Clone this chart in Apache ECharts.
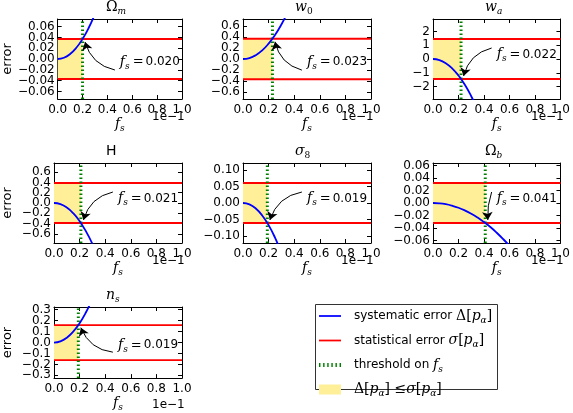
<!DOCTYPE html>
<html>
<head>
<meta charset="utf-8">
<script src="https://cdn.jsdelivr.net/npm/echarts@6/dist/echarts.min.js"></script>
<style>
  html, body { margin: 0; padding: 0; background: #fff; }
  #chart { width: 573px; height: 413px; }
</style>
</head>
<body>
<div id="chart"></div>
<script>
// panel titles (rich text keys: g = greek upright, i = italic, sub = subscript)
const panelTitles = ['{g|Ω}{subi|m}', '{i|w}{sub|0}', '{i|w}{subi|a}', '{h|H}', '{i|σ}{sub|8}', '{g|Ω}{subi|b}', '{i|n}{subi|s}'];
const fsLabels = ['0.020', '0.023', '0.022', '0.021', '0.019', '0.041', '0.019'];
const thresholdX = [0.20, 0.23, 0.22, 0.21, 0.19, 0.41, 0.19]; // x in units of 1e-1
const statErr = [0.037, 0.37, 1.45, 0.39, 0.061, 0.032, 0.16];
const yLimit = [0.074, 0.73, 2.9, 0.78, 0.122, 0.064, 0.325];
const yTicks = [
  [-0.06, -0.04, -0.02, 0, 0.02, 0.04, 0.06],
  [-0.6, -0.4, -0.2, 0, 0.2, 0.4, 0.6],
  [-2, -1, 0, 1, 2],
  [-0.6, -0.4, -0.2, 0, 0.2, 0.4, 0.6],
  [-0.10, -0.05, 0, 0.05, 0.10],
  [-0.06, -0.04, -0.02, 0, 0.02, 0.04, 0.06],
  [-0.3, -0.2, -0.1, 0, 0.1, 0.2, 0.3]
];
const yDecimals = [2, 1, 0, 1, 2, 2, 1];
const xTicks = [0, 0.2, 0.4, 0.6, 0.8, 1.0];

// systematic error curves, sampled at fSample
const fSample = [0, 0.05, 0.1, 0.15, 0.2, 0.25, 0.3, 0.35, 0.4, 0.45, 0.5, 0.55, 0.6];
const sysOmegaM = [0, 0.0023, 0.0093, 0.0208, 0.037, 0.0578, 0.0833];
const sysW0 = [0, 0.0175, 0.070, 0.157, 0.28, 0.437, 0.63, 0.857];
const sysWa = [0, -0.075, -0.30, -0.674, -1.20, -1.87, -2.70, -3.67];
const sysH = [0, -0.022, -0.088, -0.199, -0.354, -0.553, -0.796];
const sysSigma8 = [0, -0.0042, -0.0169, -0.038, -0.0676, -0.1056, -0.152];
const sysOmegaB = [0, -0.0005, -0.0019, -0.0043, -0.0076, -0.0119, -0.0171, -0.0233, -0.0305, -0.0385, -0.0476, -0.0576, -0.0685];
const sysNs = [0, 0.0111, 0.0443, 0.0997, 0.177, 0.277, 0.399];
const sysCurves = [sysOmegaM, sysW0, sysWa, sysH, sysSigma8, sysOmegaB, sysNs];

// layout
const colLeft = [54, 243, 433];
const rowTop = [19, 163, 307];
const plotW = 128, plotH = 80;

const SERIF = 'DejaVu Serif';
const SANS = 'DejaVu Sans';
const mathRich = {
  g: { fontFamily: SERIF, fontSize: 14, lineHeight: 18, color: '#000' },
  h: { fontFamily: SANS, fontSize: 14, lineHeight: 18, color: '#000' },
  i: { fontFamily: SERIF, fontStyle: 'italic', fontSize: 14, lineHeight: 18, color: '#000' },
  sub: { fontFamily: SERIF, fontSize: 9, lineHeight: 9, verticalAlign: 'bottom', color: '#000' },
  subi: { fontFamily: SERIF, fontStyle: 'italic', fontSize: 9, lineHeight: 9, verticalAlign: 'bottom', color: '#000' },
  eq: { fontFamily: SERIF, fontSize: 13, lineHeight: 18, color: '#000', padding: [0, 2, 0, 3] },
  n: { fontFamily: SANS, fontSize: 12, lineHeight: 18, color: '#000' }
};

const fmtNum = (v, d) => {
  const s = Math.abs(v) < 1e-12 ? (0).toFixed(d) : v.toFixed(d);
  return s.replace('-', '\u2212');
};

const option = {
  animation: false,
  grid: [], xAxis: [], yAxis: [], series: [], graphic: [],
  legend: {
    orient: 'vertical',
    left: 319, top: 307,
    itemWidth: 22, itemHeight: 10, itemGap: 6.5,
    selectedMode: false,
    padding: 0,
    textStyle: { fontFamily: SANS, fontSize: 12, color: '#000', lineHeight: 14, padding: [0, 0, 0, 8], rich: mathRich },
    formatter: function (name) {
      return {
        sys: 'systematic error {g|Δ[}{i|p}{subi|α}{g|]}',
        stat: 'statistical error {i|σ}{g|[}{i|p}{subi|α}{g|]}',
        thr: 'threshold on {i|f}{subi|s}',
        fill: '{g|Δ[}{i|p}{subi|α}{g|] ≤}{i|σ}{g|[}{i|p}{subi|α}{g|]}'
      }[name];
    },
    data: [
      { name: 'sys', icon: 'path://M0,0H20V1.6H0Z' },
      { name: 'stat', icon: 'path://M0,0H20V1.6H0Z' },
      { name: 'thr', icon: 'path://M0,0H1.4V4H0ZM4,0H5.4V4H4ZM8,0H9.4V4H8ZM12,0H13.4V4H12ZM16,0H17.4V4H16ZM20,0H21.4V4H20Z' },
      { name: 'fill', icon: 'rect' }
    ]
  }
};

for (let i = 0; i < 7; i++) {
  const col = i % 3, row = Math.floor(i / 3);
  const left = colLeft[col], top = rowTop[row];
  const lim = yLimit[i], sig = statErr[i], fs = thresholdX[i];
  const ax = 2 * i, ay = 3 * i;

  option.grid.push({ left: left, top: top, width: plotW, height: plotH });

  const tick = { inside: true, length: 4, lineStyle: { color: '#000', width: 1 } };
  const line = { onZero: false, lineStyle: { color: '#000', width: 1 } };

  option.xAxis.push({
    type: 'value', gridIndex: i, min: 0, max: 1, interval: 0.2,
    axisLine: line, axisTick: tick, splitLine: { show: false },
    axisLabel: { color: '#000', fontFamily: SANS, fontSize: 12, margin: 5, showMinLabel: true, showMaxLabel: true,
                 formatter: v => v.toFixed(1) },
    name: '{i|f}{subi|s}', nameLocation: 'middle', nameGap: 11,
    nameTextStyle: { rich: mathRich }
  });
  option.xAxis.push({
    type: 'value', gridIndex: i, min: 0, max: 1, interval: 0.2, position: 'top',
    axisLine: line, axisTick: tick, splitLine: { show: false }, axisLabel: { show: false }
  });

  // tick labels are split over two left axes (alternate values) so ECharts keeps all of them
  const ticks = yTicks[i];
  const evenTicks = ticks.filter((_, k) => k % 2 === 0);
  const oddTicks = ticks.filter((_, k) => k % 2 === 1);
  const labelStyle = { margin: 3, color: '#000', fontFamily: SANS, fontSize: 12,
                       showMinLabel: true, showMaxLabel: true, formatter: v => fmtNum(v, yDecimals[i]) };
  const yLeft = {
    type: 'value', gridIndex: i, min: -lim, max: lim,
    axisLine: line, splitLine: { show: false },
    axisTick: Object.assign({ customValues: ticks }, tick),
    axisLabel: Object.assign({ customValues: evenTicks }, labelStyle)
  };
  if (col === 0) {
    yLeft.name = 'error';
    yLeft.nameLocation = 'middle';
    yLeft.nameGap = 40;
    yLeft.nameTextStyle = { fontFamily: SANS, fontSize: 13, color: '#000' };
  }
  option.yAxis.push(yLeft);
  option.yAxis.push({
    type: 'value', gridIndex: i, min: -lim, max: lim, position: 'left', offset: 0,
    axisLine: { show: false }, axisTick: { show: false }, splitLine: { show: false },
    axisLabel: Object.assign({ customValues: oddTicks }, labelStyle)
  });
  option.yAxis.push({
    type: 'value', gridIndex: i, min: -lim, max: lim, position: 'right',
    axisLine: line, splitLine: { show: false },
    axisTick: Object.assign({ customValues: ticks }, tick),
    axisLabel: { show: false }
  });

  const curve = sysCurves[i];
  const side = curve[curve.length - 1] > 0 ? 1 : -1;

  // yellow band + annotation text
  option.series.push({
    name: 'fill', type: 'line', xAxisIndex: ax, yAxisIndex: ay,
    data: [[0, 0]], showSymbol: false, symbolSize: 0,
    lineStyle: { width: 0 }, itemStyle: { color: '#ffef99' }, z: 1, silent: true,
    markArea: {
      silent: true,
      itemStyle: { color: '#ffef99' },
      data: [[{ coord: [0, -sig] }, { coord: [fs, sig] }]]
    },
    markPoint: {
      silent: true, symbol: 'circle', symbolSize: 0,
      itemStyle: { color: 'rgba(0,0,0,0)' },
      label: {
        show: true, position: 'right', distance: 0, rich: mathRich,
        formatter: '{i|f}{subi|s}{eq|=}{n|' + fsLabels[i] + '}'
      },
      data: [{ coord: [0.5, (side > 0 ? -0.15 : 0.22) * sig] }]
    }
  });
  // curved annotation arrow
  option.series.push({
    name: 'arrow', type: 'lines', coordinateSystem: 'cartesian2d', xAxisIndex: ax, yAxisIndex: ay,
    silent: true, z: 6, symbol: ['none', 'arrow'], symbolSize: [6, 8],
    lineStyle: { color: '#000', width: 1, opacity: 1, curveness: (i === 5 ? 0.1 : 0.3) * side },
    data: [{ coords: [[Math.max(0.46, fs + 0.05), -side * 0.55 * sig], [fs + 0.02, side * 0.85 * sig]] }]
  });
  option.series.push({
    name: 'stat', type: 'line', xAxisIndex: ax, yAxisIndex: ay,
    data: [[0, sig], [1, sig]], showSymbol: false, silent: true, z: 3,
    itemStyle: { color: '#ff0000' }, lineStyle: { color: '#ff0000', width: 1.8 }
  });
  option.series.push({
    name: 'stat', type: 'line', xAxisIndex: ax, yAxisIndex: ay,
    data: [[0, -sig], [1, -sig]], showSymbol: false, silent: true, z: 3,
    itemStyle: { color: '#ff0000' }, lineStyle: { color: '#ff0000', width: 1.8 }
  });
  option.series.push({
    name: 'thr', type: 'line', xAxisIndex: ax, yAxisIndex: ay,
    data: [[fs, -lim], [fs, lim]], showSymbol: false, silent: true, z: 4,
    itemStyle: { color: '#008000' }, lineStyle: { color: '#008000', width: 3, type: [1.5, 2.5] }
  });
  option.series.push({
    name: 'sys', type: 'line', xAxisIndex: ax, yAxisIndex: ay,
    data: curve.map((v, k) => [fSample[k], v]), smooth: true, showSymbol: false, silent: true, z: 5,
    itemStyle: { color: '#0000ff' }, lineStyle: { color: '#0000ff', width: 1.8 }
  });

  // title and offset text
  option.graphic.push({
    type: 'text', left: left + plotW / 2 - 12, top: top - 19, silent: true,
    style: { text: panelTitles[i], rich: mathRich, fill: '#000' }
  });
  option.graphic.push({
    type: 'text', left: left + plotW - 30, top: top + plotH + 12, silent: true,
    style: { text: '1e\u22121', fontFamily: SANS, fontSize: 12, fill: '#000' }
  });
}

// legend frame
option.graphic.push({
  type: 'rect', left: 315, top: 304, silent: true, z: -1,
  shape: { width: 182, height: 85 },
  style: { fill: '#fff', stroke: '#333', lineWidth: 1 }
});

const myChart = echarts.init(document.getElementById('chart'));
myChart.setOption(option);
window.addEventListener('resize', () => { myChart.resize(); });
</script>
</body>
</html>
